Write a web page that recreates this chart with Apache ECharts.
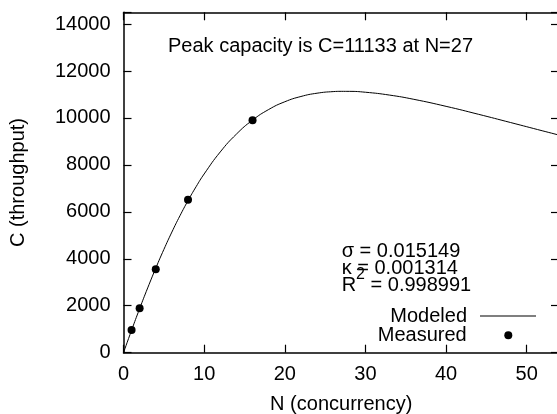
<!DOCTYPE html>
<html>
<head>
<meta charset="utf-8">
<script src="https://cdn.jsdelivr.net/npm/echarts@6/dist/echarts.min.js"></script>
<style>html,body{margin:0;padding:0;background:#fff;}#c{width:557px;height:414px;}</style>
</head>
<body>
<div id="c"></div>
<script>
// Modeled curve
const modeledN = [0,1,2,3,4,5,6,7,8,9,10,12,14,16,18,20,22,24,26,27,28,30,33,36,40,44,48,52,54];
const modeledC = [0,955,1877,2760,3600,4394,5139,5834,6477,7070,7613,8553,9311,9907,10359,10689,10914,11054,11122,11133,11132,11095,10973,10793,10494,10157,9804,9447,9270];
// Measured points
const measuredN = [1,2,4,8,16];
const measuredC = [965,1890,3550,6520,9900];
// Axis ticks
const xTicks = [0,10,20,30,40,50];
const yTicks = [0,2000,4000,6000,8000,10000,12000,14000];

const FONT = '"Liberation Sans", Arial, Helvetica, sans-serif';
const FS = 20;
const chart = echarts.init(document.getElementById('c'), null, {renderer:'canvas'});

const axisLineStyle = {color:'#000', width:1.5};
const tickStyle = {show:true, inside:true, length:8, lineStyle:{color:'#000', width:1.2}};
const xFmt = v => xTicks.indexOf(v) >= 0 ? String(v) : '';
const yFmt = v => yTicks.indexOf(v) >= 0 ? String(v) : '';

chart.setOption({
  backgroundColor:'#fff',
  animation:false,
  grid:{left:123.5, right:-2, top:12.3, bottom:61.3, containLabel:false, outerBoundsMode:'none'},
  xAxis:[{
    type:'value', min:0, max:54, interval:10, position:'bottom',
    name:'N (concurrency)', nameLocation:'middle', nameGap:42,
    nameTextStyle:{fontSize:FS, color:'#000', fontFamily:FONT},
    axisLine:{show:true, onZero:false, lineStyle:axisLineStyle},
    axisTick:tickStyle,
    axisLabel:{show:true, margin:12, fontSize:FS, color:'#000', fontFamily:FONT, formatter:xFmt},
    splitLine:{show:false}
  },{
    type:'value', min:0, max:54, interval:10, position:'top',
    axisLine:{show:true, onZero:false, lineStyle:axisLineStyle},
    axisTick:tickStyle,
    axisLabel:{show:false}, splitLine:{show:false}
  }],
  yAxis:[{
    type:'value', min:0, max:14500, interval:2000, position:'left',
    name:'C (throughput)', nameLocation:'middle', nameGap:95,
    nameTextStyle:{fontSize:FS, color:'#000', fontFamily:FONT},
    axisLine:{show:true, onZero:false, lineStyle:axisLineStyle},
    axisTick:tickStyle,
    axisLabel:{show:true, margin:13, fontSize:FS, color:'#000', fontFamily:FONT, formatter:yFmt},
    splitLine:{show:false}
  },{
    type:'value', min:0, max:14500, interval:2000, position:'right',
    axisLine:{show:true, onZero:false, lineStyle:axisLineStyle},
    axisTick:tickStyle,
    axisLabel:{show:false}, splitLine:{show:false}
  }],
  legend:[{
    orient:'vertical', right:21, top:306, align:'right', padding:0,
    itemWidth:56, itemHeight:1, icon:'rect',
    selectedMode:false,
    itemStyle:{color:'#000'},
    textStyle:{fontSize:FS, color:'#000', fontFamily:FONT, lineHeight:19, padding:[0,8,0,0]},
    data:['Modeled']
  },{
    orient:'vertical', right:44.7, top:325.3, align:'right', padding:0,
    itemWidth:8, itemHeight:8, icon:'circle',
    selectedMode:false,
    itemStyle:{color:'#000', opacity:1},
    textStyle:{fontSize:FS, color:'#000', fontFamily:FONT, lineHeight:19, padding:[0,32.6,0,0]},
    data:['Measured']
  }],
  graphic:[
    {type:'text', left:168, top:36, style:{text:'Peak capacity is C=11133 at N=27', font:FS+'px '+FONT, fill:'#000'}},
    {type:'text', x:341.7, y:251.7, style:{text:'σ = 0.015149', font:FS+'px '+FONT, fill:'#000', verticalAlign:'middle'}},
    {type:'text', x:341.7, y:268.3, style:{text:'κ = 0.001314', font:FS+'px '+FONT, fill:'#000', verticalAlign:'middle'}},
    {type:'text', x:341.7, y:285, style:{text:'R', font:FS+'px '+FONT, fill:'#000', verticalAlign:'middle'}},
    {type:'text', x:356, y:275, style:{text:'2', font:(FS-4)+'px '+FONT, fill:'#000', verticalAlign:'middle'}},
    {type:'text', x:365, y:285, style:{text:' = 0.998991', font:FS+'px '+FONT, fill:'#000', verticalAlign:'middle'}}
  ],
  series:[
    {
      name:'Modeled', type:'line', xAxisIndex:0, yAxisIndex:0,
      data: modeledN.map((n,i)=>[n, modeledC[i]]),
      smooth:true, symbol:'none', showSymbol:false,
      lineStyle:{color:'#000', width:1}, itemStyle:{color:'#000'},
      clip:true, z:2
    },
    {
      name:'Measured', type:'scatter', xAxisIndex:0, yAxisIndex:0,
      data: measuredN.map((n,i)=>[n, measuredC[i]]),
      symbol:'circle', symbolSize:8,
      itemStyle:{color:'#000', opacity:1}, z:3
    }
  ]
});
</script>
</body>
</html>
